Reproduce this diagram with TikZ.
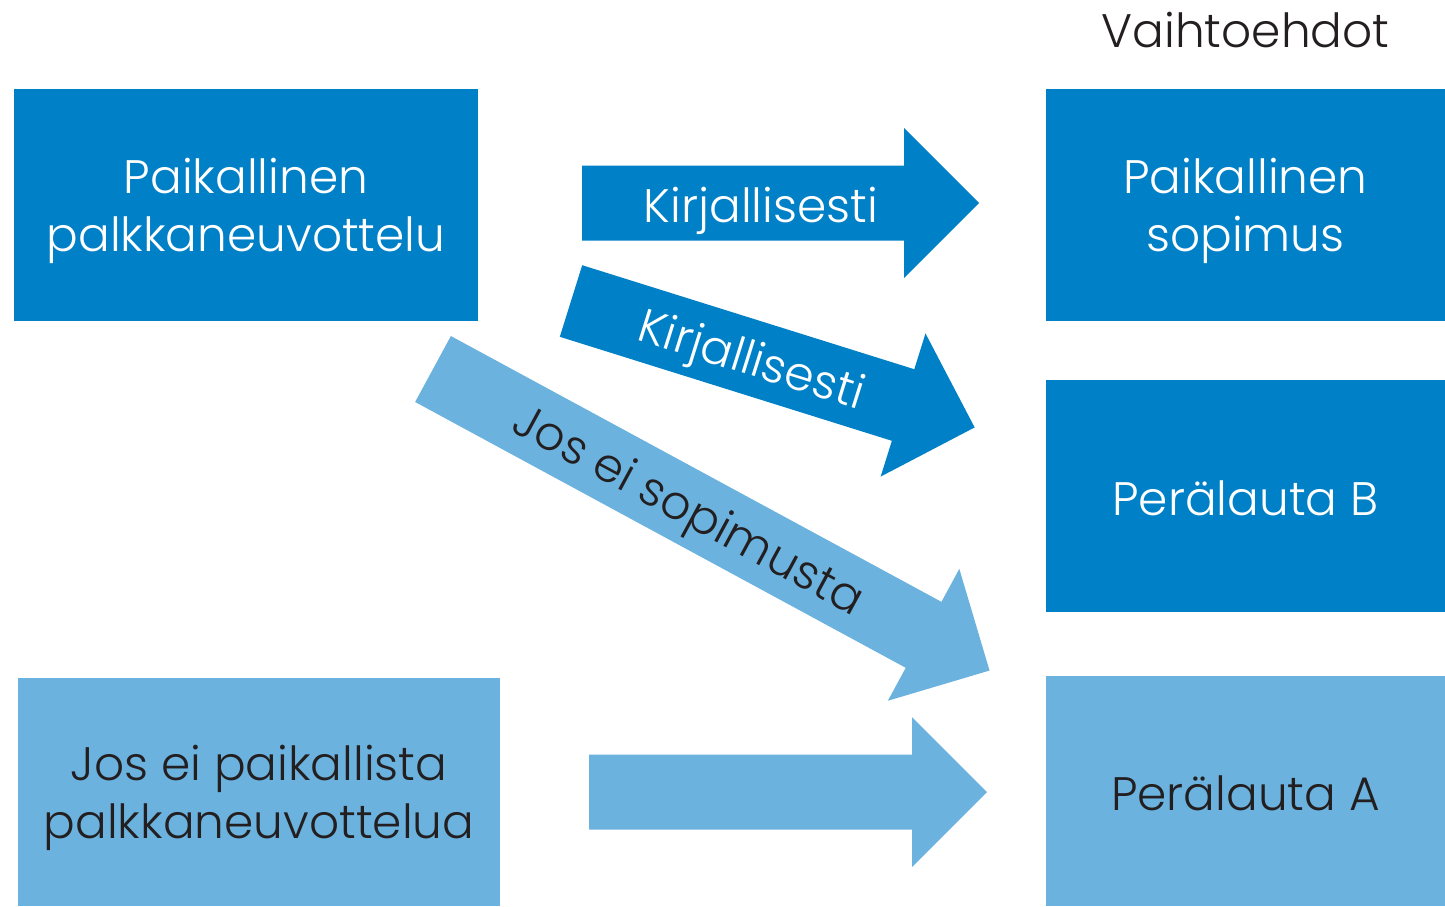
\documentclass[tikz,border=0pt]{standalone}
\usepackage{fontspec}
\IfFontExistsTF{Poppins Light}{\setmainfont{Poppins Light}}{\setmainfont{Poppins}}
\usepackage{xcolor}

\definecolor{tummasininen}{HTML}{0080C6}
\definecolor{vaaleansininen}{HTML}{6BB2DE}
\definecolor{tekstimusta}{HTML}{231F20}

% block arrow of body length #1, pointing along +x from (0,0)
\newcommand{\blockarrow}[1]{(0,-37.5) -- (#1,-37.5) -- (#1,-75) -- ({#1+75},0) -- (#1,75) -- (#1,37.5) -- (0,37.5) -- cycle}
% invisible strut that pushes the box text a little down
\newcommand{\tuki}[1]{\rule{0pt}{#1}}

\begin{document}
\begin{tikzpicture}[x=0.5pt,y=-0.5pt,
  laatikko/.style={rectangle, inner sep=0pt, align=center, font=\fontsize{23.5}{29}\selectfont},
  tumma/.style={laatikko, fill=tummasininen, text=white},
  vaalea/.style={laatikko, fill=vaaleansininen, text=tekstimusta},
  nuoliteksti/.style={inner sep=0pt, anchor=base, transform shape, font=\fontsize{23.5}{29}\selectfont}]

\useasboundingbox (0,0) rectangle (1445,906);

\node [tumma, minimum width=232pt, minimum height=116pt] (neuvottelu) at (246,205) {\tuki{24pt}Paikallinen\\palkkaneuvottelu};
\node [vaalea, minimum width=241pt, minimum height=114pt] (eineuvottelua) at (259,792) {\tuki{24pt}Jos ei paikallista\\palkkaneuvottelua};
\node [tumma, minimum width=199.5pt, minimum height=116pt] (sopimus) at (1245.5,205) {\tuki{24pt}Paikallinen\\sopimus};
\node [tumma, minimum width=199.5pt, minimum height=116pt] (peralautaB) at (1245.5,496) {\tuki{20pt}Perälauta B};
\node [vaalea, minimum width=199.5pt, minimum height=115pt] (peralautaA) at (1245.5,791) {\tuki{20pt}Perälauta A};
\node [anchor=base, inner sep=0pt, text=tekstimusta, font=\fontsize{23.5}{29}\selectfont] (vaihtoehdot) at (1245.5,47) {Vaihtoehdot};

\begin{scope}[shift={(582,203)}]
\fill [tummasininen] \blockarrow{322};
\node [nuoliteksti, text=white] (kirj1) at (179,19) {Kirjallisesti};
\end{scope}

\begin{scope}[shift={(571,301)}, rotate=-17.39]
\fill [tummasininen] \blockarrow{348};
\node [nuoliteksti, text=white] (kirj2) at (190,17.5) {Kirjallisesti};
\end{scope}

\begin{scope}[shift={(433,369)}, rotate=-28.45]
\fill [vaaleansininen] \blockarrow{558};
\node [nuoliteksti, text=tekstimusta] (eisopimusta) at (292,17.5) {Jos ei sopimusta};
\end{scope}

\begin{scope}[shift={(589,792)}]
\fill [vaaleansininen] \blockarrow{323};
\end{scope}

\end{tikzpicture}
\end{document}
